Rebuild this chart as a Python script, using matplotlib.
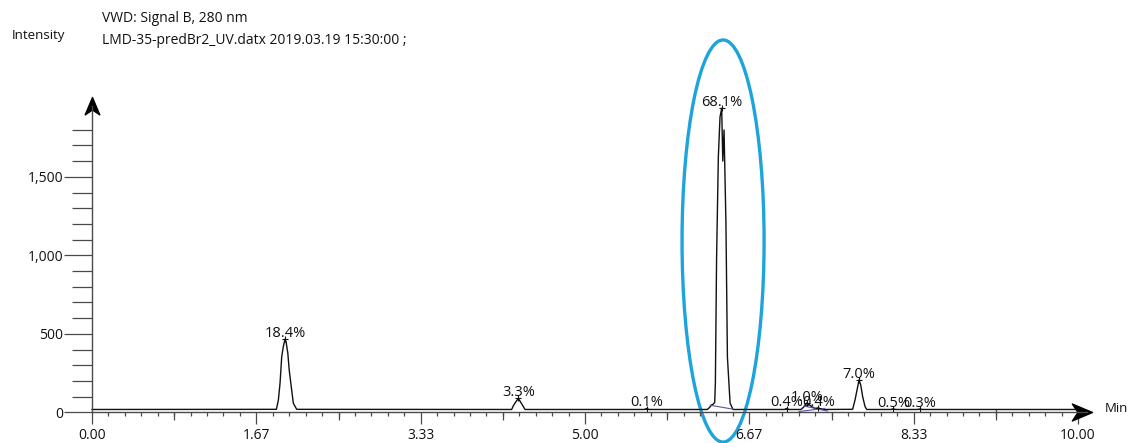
import numpy as np
import matplotlib
matplotlib.use("Agg")
import matplotlib.pyplot as plt
from matplotlib.patches import Ellipse
from matplotlib.path import Path
from matplotlib.ticker import FixedLocator, FixedFormatter

plt.rcParams["font.family"] = ["Open Sans", "DejaVu Sans"]

# chromatogram trace vertices: retention time (min) / intensity
trace_t = [0.00, 1.870, 1.890, 1.907, 1.924, 1.940, 1.957, 1.968, 1.986, 2.000, 2.025, 2.042, 2.076,
           4.256, 4.273, 4.300, 4.324, 4.348, 4.375, 4.391,
           5.600, 5.625, 5.650,
           6.240, 6.262, 6.285, 6.300, 6.315, 6.322, 6.334, 6.352, 6.369, 6.386, 6.397, 6.410,
           6.429, 6.444, 6.471, 6.500,
           7.020, 7.046, 7.070, 7.190, 7.220, 7.250, 7.290, 7.330, 7.366, 7.400,
           7.714, 7.738, 7.755, 7.779, 7.796, 7.816, 7.840, 7.857,
           8.100, 8.127, 8.150, 8.370, 8.397, 8.420, 10.00]
trace_i = [18, 19, 78, 185, 354, 418, 465, 450, 376, 269, 142, 57, 19,
           18, 42, 68, 88, 64, 36, 18,
           18, 24, 18,
           18, 30, 48, 52, 62, 186, 970, 1626, 1881, 1936, 1600, 1798,
           1206, 353, 59, 18,
           18, 24, 18, 18, 35, 60, 40, 25, 28, 18,
           19, 78, 131, 206, 174, 99, 36, 18,
           18, 22, 18, 18, 21, 18, 18]

# integrated peaks: apex time, apex height, area %
peak_rt = [1.957, 4.324, 5.625, 6.386, 7.046, 7.250, 7.366, 7.779, 8.127, 8.397]
peak_top = [465, 88, 24, 1936, 24, 60, 28, 206, 22, 21]
peak_pct = ["18.4%", "3.3%", "0.1%", "68.1%", "0.4%", "1.0%", "0.4%", "7.0%", "0.5%", "0.3%"]

# integration baselines (start t, start i, end t, end i)
base_segs = [(6.27, 45, 6.50, 20), (7.17, 5, 7.43, 25), (7.22, 40, 7.46, 8)]

x_tick_pos = [0, 10 / 6, 20 / 6, 5, 40 / 6, 50 / 6, 10]
x_tick_lbl = ["0.00", "1.67", "3.33", "5.00", "6.67", "8.33", "10.00"]
x_mid_ticks = [5 / 6, 2.5, 25 / 6, 35 / 6, 7.5, 55 / 6]
y_tick_pos = [0, 500, 1000, 1500]
y_tick_lbl = ["0", "500", "1,000", "1,500"]

X_TIP = 10.14
Y_TIP = 2008
INK = "#111111"
AXC = "#4a4a4a"


def stealth(dx, dy):
    # arrow head with the tip at the origin, pointing along (dx, dy)
    w = 0.42
    verts = [(0, 0), (-dx + w * dy, -dy - w * dx), (-0.72 * dx, -0.72 * dy),
             (-dx - w * dy, -dy + w * dx), (0, 0)]
    return Path(verts, [Path.MOVETO, Path.LINETO, Path.LINETO, Path.LINETO, Path.CLOSEPOLY])


fig = plt.figure(figsize=(11.31, 4.43), dpi=100)
ax = fig.add_axes([0, 0, 1, 1])
ax.set_xlim(-0.933, 10.537)
ax.set_ylim(-195.5, 2626.1)
ax.patch.set_visible(False)

for s in ("top", "right"):
    ax.spines[s].set_visible(False)
for s in ("left", "bottom"):
    ax.spines[s].set_position(("data", 0))
    ax.spines[s].set_color(AXC)
    ax.spines[s].set_linewidth(1.0)
ax.spines["bottom"].set_bounds(0, X_TIP - 0.05)
ax.spines["left"].set_bounds(0, Y_TIP - 60)

ax.xaxis.set_major_locator(FixedLocator(x_tick_pos))
ax.xaxis.set_major_formatter(FixedFormatter(x_tick_lbl))
ax.xaxis.set_minor_locator(FixedLocator(np.arange(61) / 6))
ax.yaxis.set_major_locator(FixedLocator(y_tick_pos))
ax.yaxis.set_major_formatter(FixedFormatter(y_tick_lbl))
ax.yaxis.set_minor_locator(FixedLocator(np.arange(0, 1900, 100)))

ax.tick_params(axis="x", which="major", direction="out", length=8.6, width=0.9,
               color=AXC, pad=2.5, labelsize=10, labelcolor=INK)
ax.tick_params(axis="x", which="minor", direction="out", length=2.9, width=0.9, color=AXC)
ax.tick_params(axis="y", which="major", direction="out", length=20, width=0.9,
               color=AXC, pad=0.5, labelsize=10, labelcolor=INK)
ax.tick_params(axis="y", which="minor", direction="out", length=14.4, width=0.9, color=AXC)

# half-way ticks on the time axis
ax.vlines(x_mid_ticks, 0, -51, color=AXC, lw=0.9)
ax.vlines([55 / 6], 0, 20, color=AXC, lw=0.9)

# axis arrow heads
ax.plot([X_TIP], [0], marker=stealth(1, 0), markersize=29, color="black", clip_on=False)
ax.plot([0], [Y_TIP], marker=stealth(0, 1), markersize=25, color="black", clip_on=False)

# signal
ax.plot(trace_t, trace_i, color=INK, lw=1.0)
for t0, i0, t1, i1 in base_segs:
    ax.plot([t0, t1], [i0, i1], color="#5d4f9e", lw=0.8)

# peak marks and area labels
ax.plot(peak_rt, peak_top, ls="none", marker="+", markersize=5, mew=0.8, color=INK)
for rt, top, pct in zip(peak_rt, peak_top, peak_pct):
    ax.annotate(pct, (rt, top), xytext=(0, 1.5), textcoords="offset points",
                ha="center", va="baseline", fontsize=10.5, color=INK)

ax.add_patch(Ellipse((6.40, 1091), width=0.832, height=2561, fill=False,
                     ec="#1ea4dc", lw=2.4, clip_on=False))

fig.text(1105 / 1131, 1 - 408 / 443, "Min", fontsize=9.5, color=INK, va="center")
fig.text(12 / 1131, 1 - 35 / 443, "Intensity", fontsize=9.5, color=INK, va="center")
fig.text(102 / 1131, 1 - 19 / 443, "VWD: Signal B, 280 nm", fontsize=10, color=INK, va="center")
fig.text(102 / 1131, 1 - 41 / 443, "LMD-35-predBr2_UV.datx 2019.03.19 15:30:00 ;",
         fontsize=10, color=INK, va="center")

fig.savefig("out.png", dpi=100)
